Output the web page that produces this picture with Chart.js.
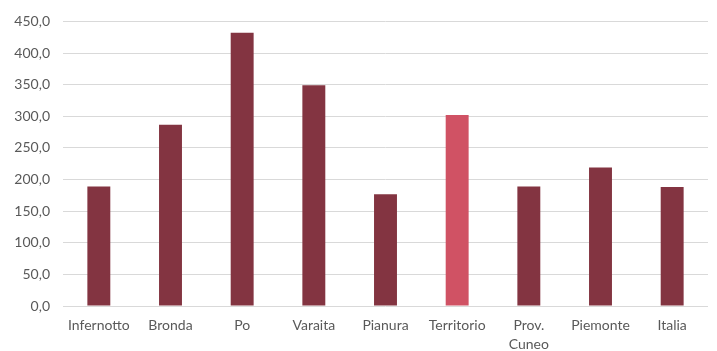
<!DOCTYPE html>
<html>
<head>
<meta charset="utf-8">
<script src="https://cdn.jsdelivr.net/npm/chart.js@4"></script>
<style>
  html, body { margin: 0; padding: 0; background: #fff; }
  #wrap { width: 717px; height: 351px; }
</style>
</head>
<body>
<div id="wrap"><canvas id="myChart" width="717" height="351"></canvas></div>
<script>
// dati
const categories = ['Infernotto', 'Bronda', 'Po', 'Varaita', 'Pianura', 'Territorio', ['Prov.', 'Cuneo'], 'Piemonte', 'Italia'];
const values = [189.0, 286.5, 432.0, 349.0, 176.5, 302.0, 189.0, 219.0, 188.0];
const yTicks = [0, 50, 100, 150, 200, 250, 300, 350, 400, 450];

const barColors = categories.map((c) => (c === 'Territorio' ? '#D05264' : '#833441'));

const ctx = document.getElementById('myChart').getContext('2d');
new Chart(ctx, {
  type: 'bar',
  data: {
    labels: categories,
    datasets: [{
      data: values,
      backgroundColor: barColors,
      borderWidth: 0,
      barPercentage: 0.32,
      categoryPercentage: 1
    }]
  },
  options: {
    responsive: false,
    animation: false,
    layout: { padding: { top: 8, right: 9, left: 0, bottom: 0 } },
    plugins: { legend: { display: false }, tooltip: { enabled: false } },
    scales: {
      x: {
        grid: { display: false },
        border: { display: false },
        ticks: {
          color: '#595959',
          font: { family: 'Lato, "Open Sans", sans-serif', size: 14, lineHeight: 1.35 },
          padding: 2,
          maxRotation: 0,
          autoSkip: false
        },
        afterFit: (axis) => { axis.height = 45; }
      },
      y: {
        min: 0,
        max: 450,
        afterBuildTicks: (axis) => { axis.ticks = yTicks.map((v) => ({ value: v })); },
        grid: { color: '#D9D9D9', lineWidth: 1, drawTicks: false },
        border: { display: false },
        ticks: {
          color: '#595959',
          font: { family: 'Lato, "Open Sans", sans-serif', size: 14 },
          padding: 13,
          callback: (v) => v.toFixed(1).replace('.', ',')
        },
        afterFit: (axis) => { axis.width = 63; }
      }
    }
  }
});
</script>
</body>
</html>
